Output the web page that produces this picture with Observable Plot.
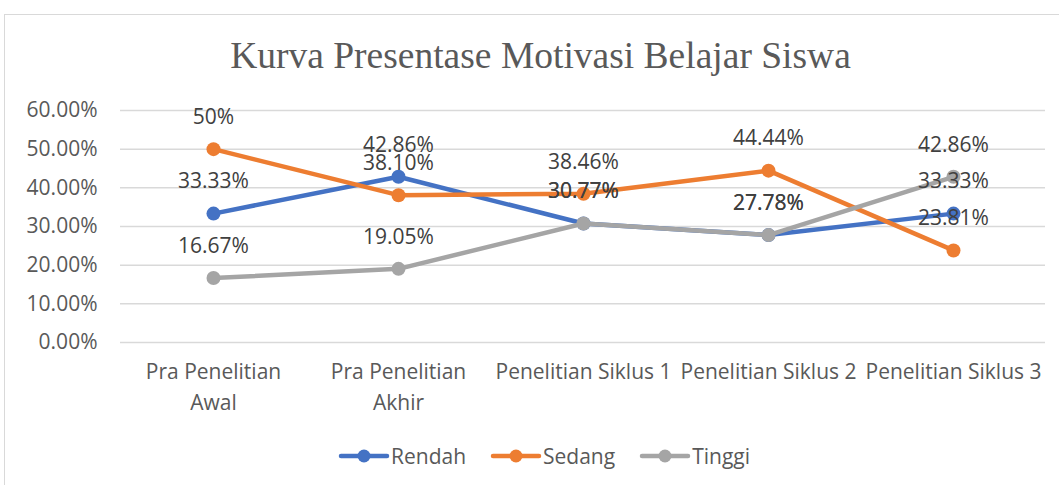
<!DOCTYPE html>
<html><head><meta charset="utf-8">
<script src="https://cdn.jsdelivr.net/npm/d3@7"></script>
<script src="https://cdn.jsdelivr.net/npm/@observablehq/plot@0.6"></script>
<style>
body{margin:0;background:#fff;}
#wrap{position:relative;width:1059px;height:485px;overflow:hidden;background:#fff;}
#frame{position:absolute;left:4px;top:14px;width:1100px;height:520px;border:1.5px solid #d9d9d9;box-sizing:border-box;}
#title{position:absolute;left:0;top:37px;width:1081px;text-align:center;font-family:"Liberation Serif","Times New Roman",serif;font-size:37.5px;line-height:37px;color:#595959;white-space:nowrap;}
#chart{position:absolute;left:0;top:0;}
#legend{position:absolute;left:0;top:444px;width:1088px;height:24px;display:flex;justify-content:center;align-items:center;font-family:"Open Sans",sans-serif;font-size:21px;color:#595959;}
.item{display:flex;align-items:center;margin:0 12px;}
.item svg{margin-right:1px;}
</style></head>
<body><div id="wrap"><div id="frame"></div><div id="chart"></div><div id="title">Kurva Presentase Motivasi Belajar Siswa</div><div id="legend"></div></div>
<script>
const categories = ["Pra Penelitian\nAwal", "Pra Penelitian\nAkhir", "Penelitian Siklus 1", "Penelitian Siklus 2", "Penelitian Siklus 3"];
const seriesNames = ["Rendah", "Sedang", "Tinggi"];
const seriesColors = ["#4472C4", "#ED7D31", "#A5A5A5"];
const rendah = [33.33, 42.86, 30.77, 27.78, 33.33];
const sedang = [50, 38.10, 38.46, 44.44, 23.81];
const tinggi = [16.67, 19.05, 30.77, 27.78, 42.86];
const yTicks = [0, 10, 20, 30, 40, 50, 60];

const seriesValues = [rendah, sedang, tinggi];
const rows = [];
seriesNames.forEach((s, si) => seriesValues[si].forEach((v, i) => rows.push({series: s, cat: categories[i], value: v})));
const fmt = v => Number.isInteger(v) ? v + "%" : v.toFixed(2) + "%";

const marks = [Plot.ruleY(yTicks, {stroke: "#d9d9d9", strokeWidth: 1.5})];
seriesNames.forEach((s, si) => {
  const d = rows.filter(r => r.series === s);
  marks.push(Plot.line(d, {x: "cat", y: "value", stroke: seriesColors[si], strokeWidth: 4.5, strokeLinejoin: "round", strokeLinecap: "round"}));
  marks.push(Plot.dot(d, {x: "cat", y: "value", fill: seriesColors[si], r: 7}));
});
marks.push(Plot.text(rows, {x: "cat", y: "value", text: d => fmt(d.value), dy: -32, fill: "#404040", fontSize: 21}));
marks.push(Plot.axisY({ticks: yTicks, tickSize: 0, tickPadding: 23, tickFormat: d => d.toFixed(2) + "%", label: null}));
marks.push(Plot.axisX({tickSize: 0, tickPadding: 14, lineHeight: 1.5, label: null}));

const chart = Plot.plot({
  width: 1059, height: 485,
  marginLeft: 120, marginRight: 14, marginTop: 110, marginBottom: 143,
  style: {fontFamily: "'Open Sans', sans-serif", fontSize: "21px", color: "#595959", background: "transparent", overflow: "visible"},
  x: {type: "point", domain: categories, padding: 0.5},
  y: {domain: [0, 60]},
  marks
});
document.getElementById("chart").appendChild(chart);

const leg = document.getElementById("legend");
seriesNames.forEach((s, si) => {
  const it = document.createElement("div");
  it.className = "item";
  it.innerHTML = `<svg width="52" height="16"><line x1="3" y1="8" x2="49" y2="8" stroke="${seriesColors[si]}" stroke-width="4.5" stroke-linecap="round"/><circle cx="26" cy="8" r="6.5" fill="${seriesColors[si]}"/></svg><span>${s}</span>`;
  leg.appendChild(it);
});
</script></body></html>
